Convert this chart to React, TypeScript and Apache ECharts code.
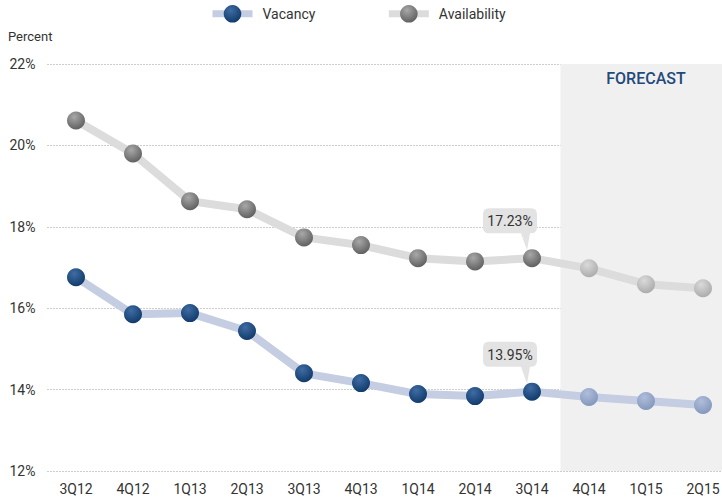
import React, { useEffect, useRef } from "react";
import * as echarts from "echarts";

const categories = ["3Q12", "4Q12", "1Q13", "2Q13", "3Q13", "4Q13", "1Q14", "2Q14", "3Q14", "4Q14", "1Q15", "2Q15"];
const vacancy = [16.76, 15.85, 15.88, 15.44, 14.4, 14.16, 13.89, 13.84, 13.95, 13.82, 13.72, 13.62];
const availability = [20.61, 19.8, 18.63, 18.43, 17.74, 17.55, 17.23, 17.15, 17.23, 16.98, 16.59, 16.49];
const forecastStart = "4Q14";
const calloutAt = "3Q14";
const yTicks = { min: 12, max: 22, interval: 2 };

const FONT = "Roboto, 'Liberation Sans', sans-serif";

const grad = (light: string, dark: string) =>
  new echarts.graphic.RadialGradient(0.4, 0.3, 0.75, [
    { offset: 0, color: light },
    { offset: 1, color: dark },
  ]);

const CALLOUT =
  "path://M6,0 H48 Q54,0 54,6 V19 Q54,25 48,25 H47 L44,42 L38,25 H6 Q0,25 0,19 V6 Q0,0 6,0 Z";

export default function App() {
  const ref = useRef<HTMLDivElement>(null);
  useEffect(() => {
    if (!ref.current) return;
    const chart = echarts.init(ref.current, undefined, { renderer: "svg" });
    const fIdx = categories.indexOf(forecastStart);
    const cIdx = categories.indexOf(calloutAt);

    const build = (vals: number[], hist: [string, string], fc: [string, string]) =>
      vals.map((v, i) => ({
        value: v,
        itemStyle: { color: i < fIdx ? grad(hist[0], hist[1]) : grad(fc[0], fc[1]) },
      }));

    const markPoint = (vals: number[]) => ({
      symbol: CALLOUT,
      symbolSize: [54, 42],
      symbolOffset: [-22, -29],
      symbolKeepAspect: false,
      itemStyle: { color: "#e3e3e3" },
      label: {
        show: true,
        position: "inside",
        offset: [0, -8],
        color: "#333",
        fontFamily: FONT,
        fontSize: 14,
        formatter: (p: any) => p.value.toFixed(2) + "%",
      },
      data: [{ coord: [calloutAt, vals[cIdx]], value: vals[cIdx] }],
    });

    chart.setOption({
      animation: false,
      textStyle: { fontFamily: FONT },
      legend: {
        top: 0,
        left: 204,
        itemWidth: 40,
        itemHeight: 22,
        itemGap: 70,
        lineStyle: { width: 7 },
        textStyle: { fontFamily: FONT, fontSize: 14, color: "#333", padding: [0, 0, 0, 5] },
        data: ["Vacancy", "Availability"],
      },
      graphic: [
        {
          type: "text",
          left: 8,
          top: 30,
          style: { text: "Percent", fontFamily: FONT, fontSize: 13, fill: "#333" },
        },
      ],
      grid: { left: 47.5, top: 64, right: -9.5, bottom: 30, outerBoundsMode: "none", containLabel: false },
      xAxis: [
        {
          type: "category",
          data: categories,
          boundaryGap: true,
          axisLine: { show: false },
          axisTick: { show: false },
          axisLabel: { color: "#333", fontSize: 14, fontFamily: FONT, margin: 11 },
        },
        { type: "value", min: 0, max: categories.length, show: false },
      ],
      yAxis: {
        type: "value",
        min: yTicks.min,
        max: yTicks.max,
        interval: yTicks.interval,
        axisLine: { show: false },
        axisTick: { show: false },
        axisLabel: { color: "#333", fontSize: 14, fontFamily: FONT, margin: 12, formatter: "{value}%" },
        splitLine: { lineStyle: { color: "#9a9a9a", type: [1, 2], width: 1 } },
      },
      series: [
        {
          type: "line",
          xAxisIndex: 1,
          data: [],
          silent: true,
          markArea: {
            silent: true,
            itemStyle: { color: "#f0f0f0" },
            label: {
              show: true,
              position: "insideTop",
              distance: 6,
              color: "#1f4a7c",
              fontFamily: FONT,
              fontSize: 16,
              fontWeight: 500,
            },
            data: [[{ name: "FORECAST", xAxis: fIdx, yAxis: yTicks.max }, { xAxis: categories.length, yAxis: yTicks.min }]],
          },
        },
        {
          name: "Availability",
          type: "line",
          data: build(availability, ["#a8a8a8", "#5c5c5c"], ["#dadada", "#a9a9a9"]),
          symbol: "circle",
          symbolSize: 18,
          lineStyle: { color: "#dcdcdc", width: 8 },
          itemStyle: { color: grad("#a8a8a8", "#5c5c5c") },
          markPoint: markPoint(availability),
          z: 3,
        },
        {
          name: "Vacancy",
          type: "line",
          data: build(vacancy, ["#3f6ca3", "#0e3868"], ["#b0bedb", "#8195bb"]),
          symbol: "circle",
          symbolSize: 18,
          lineStyle: { color: "#c4cde2", width: 8 },
          itemStyle: { color: grad("#3f6ca3", "#0e3868") },
          markPoint: markPoint(vacancy),
          z: 3,
        },
      ],
    });
    return () => chart.dispose();
  }, []);
  return <div ref={ref} style={{ width: 722, height: 501, position: "absolute", left: 0, top: 0 }} />;
}
